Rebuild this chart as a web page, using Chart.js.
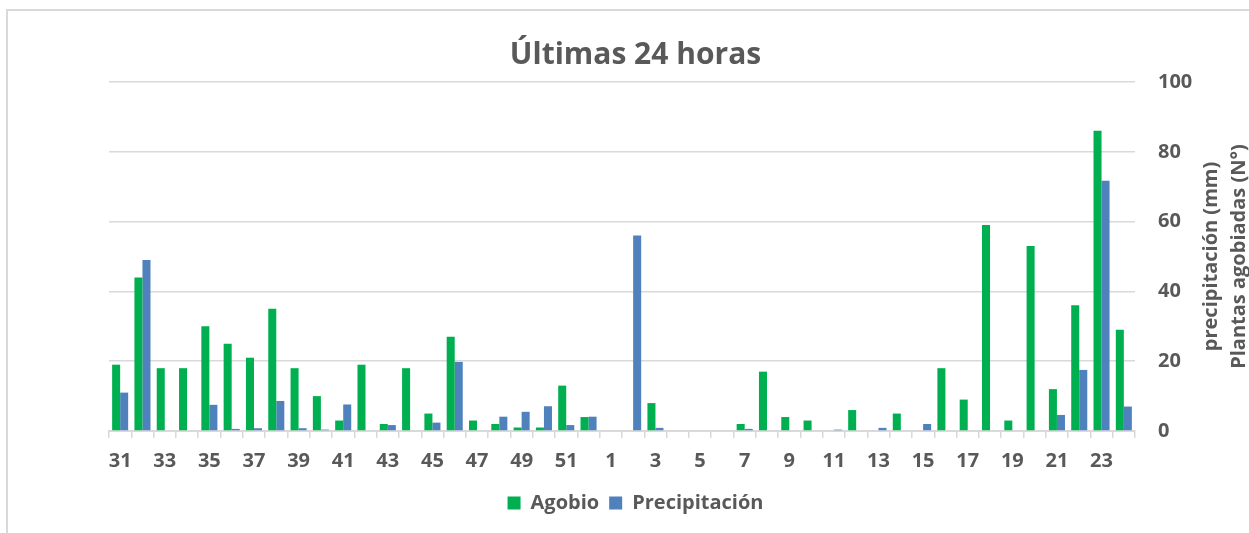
<!DOCTYPE html>
<html>
<head>
<meta charset="utf-8">
<script src="https://cdn.jsdelivr.net/npm/chart.js@4"></script>
<style>
  html, body { margin: 0; padding: 0; background: #fff; }
  #wrap { position: relative; width: 1249px; height: 533px; overflow: hidden; }
  #frame { position: absolute; left: 6px; top: 9px; width: 1400px; height: 700px; border: 2px solid #d9d9d9; pointer-events: none; }
  canvas { position: absolute; left: 0; top: 0; }
</style>
</head>
<body>
<div id="wrap">
  <canvas id="c" width="1249" height="533"></canvas>
  <div id="frame"></div>
</div>
<script>
const categories = ["31","32","33","34","35","36","37","38","39","40","41","42","43","44","45","46","47","48","49","50","51","52",
  "1","2","3","4","5","6","7","8","9","10","11","12","13","14","15","16","17","18","19","20","21","22","23","24"];
const agobio = [19,44,18,18,30,25,21,35,18,10,3,19,2,18,5,27,3,2,1,1,13,4,
  0,0,8,0,0,0,2,17,4,3,0,6,0,5,0,18,9,59,3,53,12,36,86,29];
const precipitacion = [11,49,0,0,7.5,0.6,0.8,8.6,0.8,0.4,7.6,0,1.7,0,2.4,19.8,0,4.1,5.5,7.1,1.7,4.1,
  0,56,0.9,0,0,0,0.6,0,0,0,0.4,0,0.9,0,2,0,0,0,0,0,4.6,17.5,71.7,7];
const yTicks = [0,20,40,60,80,100];
const titleText = "Últimas 24 horas";
const axisTitleLines = ["precipitación (mm)", "Plantas agobiadas (N°)"];

const FONT = "'Open Sans'";
const GRAY = "#595959";

const axisTitlePlugin = {
  id: 'axisTitle',
  afterDraw(chart) {
    const ctx = chart.ctx;
    const ca = chart.chartArea;
    const cy = (ca.top + ca.bottom) / 2;
    ctx.save();
    ctx.fillStyle = GRAY;
    ctx.font = "bold 20px " + FONT;
    ctx.textAlign = "center";
    ctx.textBaseline = "middle";
    const xs = [1211, 1239];
    axisTitleLines.forEach((t, i) => {
      ctx.save();
      ctx.translate(xs[i], cy);
      ctx.rotate(-Math.PI / 2);
      ctx.fillText(t, 0, 0);
      ctx.restore();
    });
    ctx.restore();
  }
};

new Chart(document.getElementById('c'), {
  type: 'bar',
  data: {
    labels: categories,
    datasets: [
      { label: 'Agobio', data: agobio, backgroundColor: '#00B050', borderWidth: 0,
        barPercentage: 1.0, categoryPercentage: 0.72, yAxisID: 'y' },
      { label: 'Precipitación', data: precipitacion, backgroundColor: '#4F81BD', borderWidth: 0,
        barPercentage: 1.0, categoryPercentage: 0.72, yAxisID: 'y' }
    ]
  },
  options: {
    responsive: false,
    animation: false,
    layout: { padding: { left: 22, right: 0, top: 0, bottom: 10 } },
    plugins: {
      title: {
        display: true, text: titleText, color: GRAY,
        font: { family: FONT, size: 30, weight: 'bold' },
        padding: { top: 37, bottom: 9 }
      },
      legend: {
        position: 'bottom',
        labels: {
          color: GRAY, boxWidth: 13, boxHeight: 13, padding: 10,
          font: { family: FONT, size: 20, weight: 'bold' }
        }
      },
      tooltip: { enabled: false }
    },
    scales: {
      x: {
        offset: true,
        grid: { display: true, drawOnChartArea: false, drawTicks: true, tickLength: 7, color: '#d9d9d9', lineWidth: 1.5, offset: true },
        border: { display: true, color: '#d9d9d9', width: 2 },
        ticks: {
          autoSkip: false, maxRotation: 0, minRotation: 0, padding: 11, color: GRAY,
          font: { family: FONT, size: 20, weight: 'bold' },
          callback: function(v, i) { return i % 2 === 0 ? categories[i] : ''; }
        },
        afterFit: function(s) { s.height = 52; }
      },
      y: {
        position: 'right',
        min: 0, max: 100,
        afterBuildTicks: function(s) { s.ticks = yTicks.map(v => ({ value: v })); },
        grid: { color: '#d9d9d9', lineWidth: 1.5, drawTicks: false },
        border: { display: false },
        ticks: { padding: 23, color: GRAY, font: { family: FONT, size: 20, weight: 'bold' } },
        afterFit: function(s) { s.width = 114; }
      },
      yLeft: {
        position: 'left',
        display: true,
        min: 0, max: 100,
        grid: { display: false },
        border: { display: false },
        ticks: { display: false },
        afterFit: function(s) { s.width = 87; }
      }
    }
  },
  plugins: [axisTitlePlugin]
});
</script>
</body>
</html>
